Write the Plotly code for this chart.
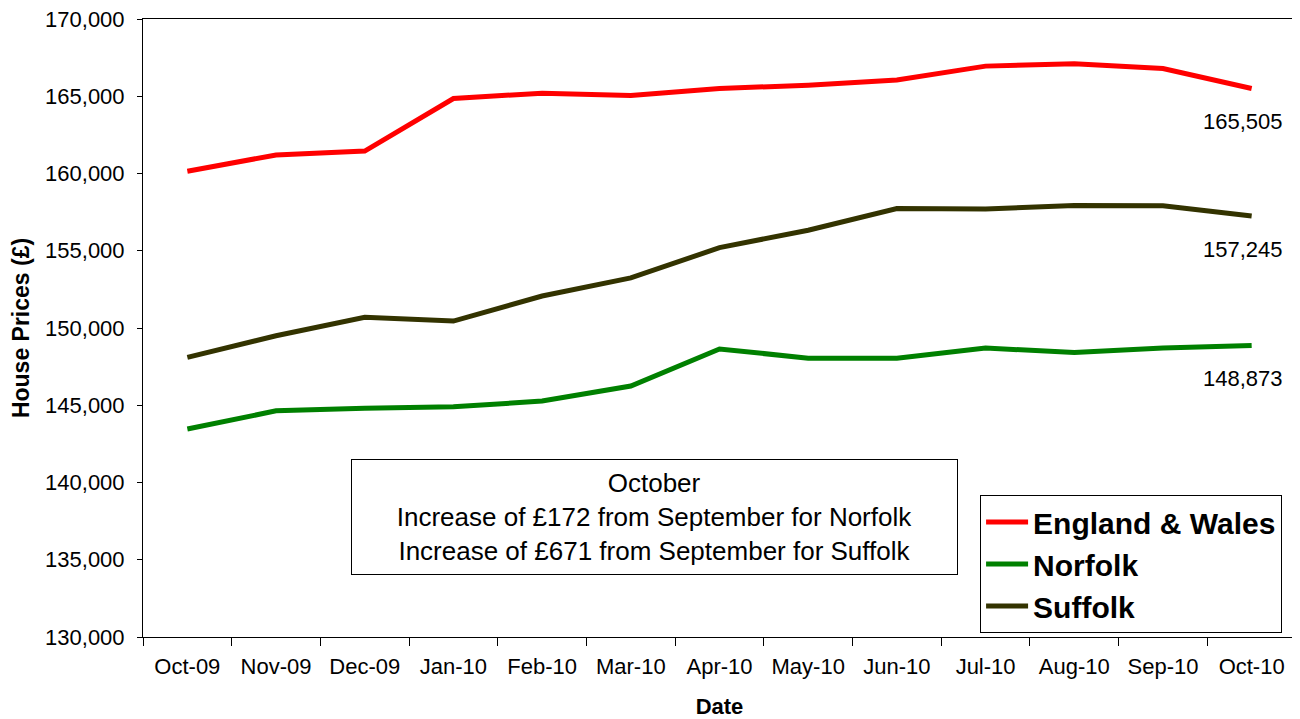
import plotly.graph_objects as go

months = ["Oct-09", "Nov-09", "Dec-09", "Jan-10", "Feb-10", "Mar-10", "Apr-10",
          "May-10", "Jun-10", "Jul-10", "Aug-10", "Sep-10", "Oct-10"]
england_wales = [160150, 161200, 161450, 164850, 165200, 165050, 165500,
                 165720, 166050, 166950, 167100, 166800, 165505]
norfolk = [143460, 144640, 144800, 144900, 145270, 146240, 148640,
           148050, 148050, 148700, 148420, 148701, 148873]
suffolk = [148100, 149500, 150700, 150450, 152070, 153240, 155200,
           156330, 157730, 157700, 157930, 157916, 157245]

series = [("England & Wales", england_wales, "#ff0000"),
          ("Norfolk", norfolk, "#008000"),
          ("Suffolk", suffolk, "#333300")]

FONT = "Liberation Sans, Arial, sans-serif"

fig = go.Figure()
for name, vals, col in series:
    fig.add_trace(go.Scatter(x=months, y=vals, mode="lines", name=name,
                             line=dict(color=col, width=5)))
    fig.add_annotation(x=months[-1], y=vals[-1], text=f"{vals[-1]:,}",
                       showarrow=False, yshift=-33, xshift=-9,
                       font=dict(family=FONT, size=22, color="black"))

fig.add_annotation(xref="paper", yref="paper", x=0.4436, y=0.194,
                   xanchor="center", yanchor="middle",
                   text="October<br>Increase of £172 from September for Norfolk<br>Increase of £671 from September for Suffolk",
                   showarrow=False, align="center", width=603, height=112,
                   bordercolor="black", borderwidth=1, bgcolor="white",
                   font=dict(family=FONT, size=26, color="black"))

# page body has an 8px margin, so the figure is sized/offset to compensate
fig.update_layout(
    width=1292, height=711,
    margin=dict(l=135, r=4, t=11, b=82),
    plot_bgcolor="white", paper_bgcolor="white",
    font=dict(family=FONT, size=22, color="black"),
    legend=dict(x=0.726, y=0.2298, xanchor="left", yanchor="top",
                bordercolor="black", borderwidth=1, bgcolor="white",
                font=dict(family=FONT, size=30, color="black", weight="bold"),
                tracegroupgap=0, itemwidth=42),
    xaxis=dict(type="category", range=[-0.5, 12.5], showgrid=False, automargin=False,
               showline=True, linecolor="black", linewidth=1, mirror=True,
               ticks="outside", tickson="boundaries", ticklen=8, tickcolor="black",
               ticklabelstandoff=10, ticklabeloverflow="allow",
               tickfont=dict(family=FONT, size=22),
               title=dict(text="<b>Date</b>", font=dict(family=FONT, size=22), standoff=22)),
    yaxis=dict(range=[130000, 170000], dtick=5000, tickformat=",d", automargin=False,
               showgrid=False, zeroline=False,
               showline=True, linecolor="black", linewidth=1, mirror=True,
               ticks="outside", ticklen=5, tickcolor="black",
               ticklabelstandoff=8, ticklabeloverflow="allow",
               tickfont=dict(family=FONT, size=22),
               title=dict(text="<b>House Prices (£)</b>", font=dict(family=FONT, size=23), standoff=12)),
)

fig.write_html("out.html")
